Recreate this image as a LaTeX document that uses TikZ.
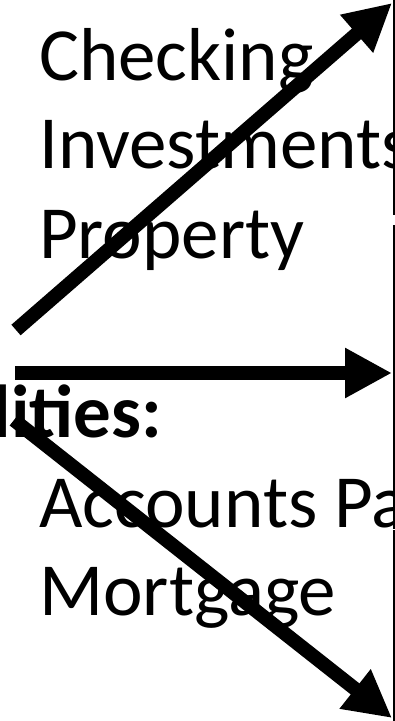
\documentclass[tikz,border=0pt]{standalone}
\usepackage{fontspec}
\setmainfont{Carlito}
\usetikzlibrary{arrows.meta}
\begin{document}
\begin{tikzpicture}[x=1pt,y=-1pt,
  txt/.style={anchor=base west,inner sep=0pt,font=\fontsize{75}{90}\selectfont},
  btxt/.style={anchor=base east,inner sep=0pt,font=\fontsize{75}{90}\selectfont\bfseries},
  panel/.style={draw=black,line width=2pt,fill=white,anchor=north west,minimum width=40pt,inner sep=0pt},
  arr/.style={line width=14pt,-{Triangle[length=47pt,width=47pt]}}]
\useasboundingbox (0,0) rectangle (395,721);
\clip (0,0) rectangle (395,721);
\node[txt] (chk) at (39,80) {Checking};
\node[txt] (inv) at (39,168) {Investments};
\node[txt] (prop) at (39,258) {Property};
\node[btxt] (liab) at (162,437) {lities:};
\node[txt] (acc) at (39,527) {Accounts Pa};
\node[txt] (mort) at (39,615) {Mortgage};
\node[panel,minimum height=233pt] (p1) at (392.5,-20) {};
\node[panel,minimum height=302pt] (p2) at (392.5,225) {};
\node[panel,minimum height=230pt] (p3) at (392.5,530) {};
\coordinate (s1) at (16,330);
\coordinate (s2) at (15,373);
\coordinate (s3) at (14,420);
\coordinate (t1) at (392,3);
\coordinate (t2) at (392,373);
\coordinate (t3) at (392,718);
\draw[arr] (s1) -- (t1);
\draw[arr] (s2) -- (t2);
\draw[arr] (s3) -- (t3);
\end{tikzpicture}
\end{document}
